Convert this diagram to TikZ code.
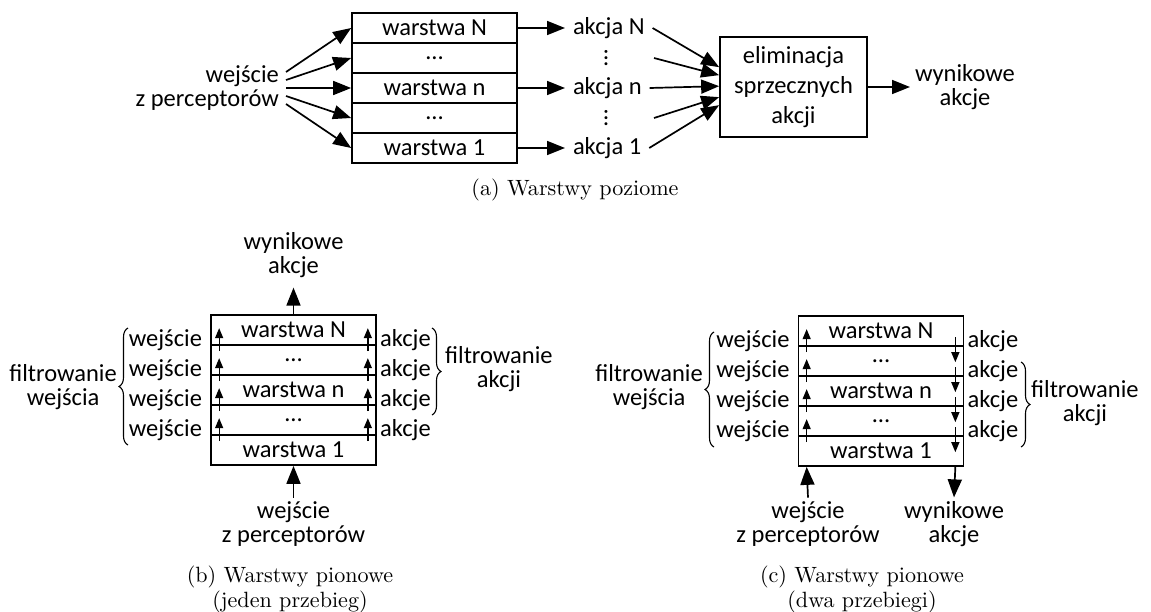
\documentclass[tikz,border=0pt]{standalone}
\usepackage{fontspec}
\newfontfamily\carl{Carlito}
\newfontfamily\lmten{lmroman10-regular}[Extension=.otf]
\usetikzlibrary{arrows.meta,decorations.pathreplacing,calc}
\newcommand\dfont{\carl\fontsize{24.5}{24}\selectfont}
\newcommand\cfont{\lmten\fontsize{22.1}{24.5}\selectfont}
\tikzset{
  lay/.style={draw, line width=1.7pt, minimum width=165pt, minimum height=30pt, inner sep=0pt, font=\dfont},
  txt/.style={font=\dfont, align=center, inner sep=0pt},
  lbl/.style={font=\dfont, inner sep=0pt},
  captxt/.style={font=\cfont, align=center, inner sep=0pt},
  big/.style={line width=1.7pt, -{Triangle[length=18pt,width=14pt]}},
  sm/.style={line width=1.3pt, -{Triangle[length=10pt,width=8pt]}},
  brc/.style={line width=1.1pt, decorate, decoration={brace, amplitude=9pt}},
}
\begin{document}
\begin{tikzpicture}[x=1pt,y=-1pt]
\useasboundingbox (0,0) rectangle (1151,611);
% ---------------- (a) ----------------
\node[lay] (a5) at (434.5,28) {warstwa N};
\node[lay] (a4) at (434.5,58) {…};
\node[lay] (a3) at (434.5,88) {warstwa n};
\node[lay] (a2) at (434.5,118) {…};
\node[lay] (a1) at (434.5,148) {warstwa 1};
\node[txt, align=right, anchor=east] (inA) at (279,88) {wejście\\z perceptorów};
\coordinate (i5) at (286,72);
\coordinate (i4) at (286,80);
\coordinate (i3) at (286,88);
\coordinate (i2) at (286,96);
\coordinate (i1) at (286,104);
\draw[big] (i5) -- (a5.west);
\draw[big] (i4) -- (a4.west);
\draw[big] (i3) -- (a3.west);
\draw[big] (i2) -- (a2.west);
\draw[big] (i1) -- (a1.west);
\node[lbl, anchor=west, outer sep=8pt] (akN) at (565,28) {akcja N};
\node[lbl, anchor=west, outer sep=8pt] (akn) at (565,88) {akcja n};
\node[lbl, anchor=west, outer sep=8pt] (ak1) at (565,148) {akcja 1};
\node[lbl, rotate=90] (dt4) at (606,58) {…};
\node[lbl, rotate=90] (dt2) at (606,118) {…};
\coordinate (d4) at (654,58);
\coordinate (d2) at (654,118);
\draw[big] (a5.east) -- (akN.west);
\draw[big] (a3.east) -- (akn.west);
\draw[big] (a1.east) -- (ak1.west);
\node[draw, line width=1.7pt, minimum width=147pt, minimum height=100pt, txt] (el) at (793.5,87) {eliminacja\\[6pt]sprzecznych\\[6pt]akcji};
\draw[big] (akN.east) -- ($(el.north west)+(0,31)$);
\draw[big] (d4) -- ($(el.north west)+(0,39)$);
\draw[big] (akn.east) -- ($(el.north west)+(0,50)$);
\draw[big] (d2) -- ($(el.north west)+(0,61)$);
\draw[big] (ak1.east) -- ($(el.north west)+(0,69)$);
\node[txt, anchor=west, outer sep=5pt] (outA) at (910,87) {wynikowe\\akcje};
\draw[big] (el.east) -- (outA.west);
\node[captxt] (capA) at (575,190) {(a) Warstwy poziome};
% ---------------- (b) ----------------
\node[lay] (b5) at (293.5,330) {warstwa N};
\node[lay] (b4) at (293.5,360) {…};
\node[lay] (b3) at (293.5,390) {warstwa n};
\node[lay] (b2) at (293.5,420) {…};
\node[lay] (b1) at (293.5,450) {warstwa 1};
\foreach \r/\k in {b4/4,b3/3,b2/2,b1/1}{
  \draw[sm] ($(\r.north west)+(9,7)$) -- ($(\r.north west)+(9,-16)$);
  \draw[sm] ($(\r.north east)+(-9,7)$) -- ($(\r.north east)+(-9,-16)$);
  \node[lbl, anchor=mid east] (wb\k) at ($(\r.north west)+(-8,0)$) {wejście};
  \node[lbl, anchor=mid west] (kb\k) at ($(\r.north east)+(3,0)$) {akcje};
}
\draw[brc] (128,445) -- (128,328);
\node[txt, anchor=east] (fwb) at (117,387) {filtrowanie\\wejścia};
\draw[brc] (432,328) -- (432,415);
\node[txt, anchor=west] (fab) at (445,369) {filtrowanie\\akcji};
\node[txt, outer sep=10pt] (outB) at (293.5,255) {wynikowe\\akcje};
\draw[big] (b5.north) -- (outB.south);
\node[txt, outer sep=4pt] (inB) at (293.5,524) {wejście\\z perceptorów};
\draw[big] (inB.north) -- (b1.south);
\node[captxt] (capB) at (290,589.5) {(b) Warstwy pionowe\\(jeden przebieg)};
% ---------------- (c) ----------------
\node[lay] (c5) at (881,331) {warstwa N};
\node[lay] (c4) at (881,361) {…};
\node[lay] (c3) at (881,391) {warstwa n};
\node[lay] (c2) at (881,421) {…};
\node[lay] (c1) at (881,451) {warstwa 1};
\foreach \r/\k in {c4/4,c3/3,c2/2,c1/1}{
  \draw[sm] ($(\r.north west)+(9,7)$) -- ($(\r.north west)+(9,-16)$);
  \draw[sm] ($(\r.north east)+(-9,-8)$) -- ($(\r.north east)+(-9,17)$);
  \node[lbl, anchor=mid east] (wc\k) at ($(\r.north west)+(-8,0)$) {wejście};
  \node[lbl, anchor=mid west] (kc\k) at ($(\r.north east)+(3,0)$) {akcje};
}
\draw[brc] (714,447) -- (714,332);
\node[txt, anchor=east] (fwc) at (703,387) {filtrowanie\\wejścia};
\draw[brc] (1021,362) -- (1021,447);
\node[txt, anchor=west] (fac) at (1031,403) {filtrowanie\\akcji};
\coordinate (cin) at ($(c1.south west)+(9,0)$);
\coordinate (cout) at ($(c1.south east)+(-9,0)$);
\node[txt, outer sep=4pt] (inC) at (808,524) {wejście\\z perceptorów};
\node[txt, outer sep=4pt] (outC) at (954,524) {wynikowe\\akcje};
\draw[big] (inC.north) -- (cin);
\draw[big] (cout) -- (outC.north);
\node[captxt] (capC) at (862,589.5) {(c) Warstwy pionowe\\(dwa przebiegi)};
\end{tikzpicture}
\end{document}
